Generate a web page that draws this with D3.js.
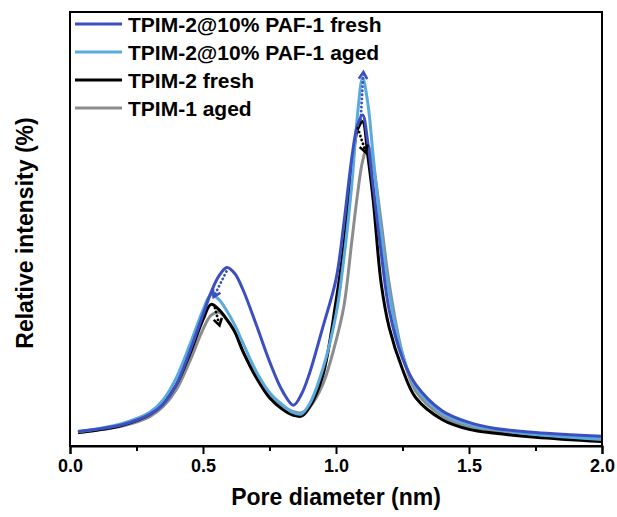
<!DOCTYPE html>
<html><head><meta charset="utf-8">
<script src="https://cdn.jsdelivr.net/npm/d3@7"></script>
<style>body{margin:0;background:#fff}svg{display:block}text{font-family:"Liberation Sans",Arial,sans-serif;font-weight:bold}</style>
</head><body><div id="chart"></div>
<script>
const poreDiameter = [0.03,0.1,0.2,0.3,0.35,0.4,0.45,0.5,0.53,0.56,0.59,0.62,0.65,0.7,0.75,0.8,0.84,0.87,0.9,0.95,1.0,1.03,1.06,1.08,1.1,1.12,1.14,1.17,1.2,1.25,1.3,1.4,1.5,1.6,1.75,2.0];
const pafFresh = [4.3,4.8,5.9,8.2,10.5,15,22.5,31,36,39.8,41.7,40.3,36.7,28.7,20.3,13.4,10.3,12.8,17.5,28,39,52,67,74,76.5,70,60,45,32,21,15,9,6.4,5,4.1,3.2];
const pafAged  = [4.3,4.9,6.2,8.7,11.5,16.6,24,32,35.5,34.4,31.8,28.5,24.5,18,13.2,10.3,8.6,8.3,10.5,18.5,31,44,61,76,85,79,67,50,36,22,14.4,8.4,5.9,4.8,3.6,2.5];
const tpim2Fresh = [4.1,4.6,5.8,8.2,10.8,15,21.9,29.8,33.3,32.1,29.8,27,22.6,16.6,12,9.3,8,7.8,9.8,17,34,47,64,73,75,67,57,38,28,18.5,12,7,4.8,3.9,3,2];
const tpim1Aged = [4.1,4.6,5.6,7.7,10,13.9,20.3,27.6,30.8,31.5,29.8,27,22.6,17.3,12.8,10,8.8,8.6,9.8,15,25,33,48,58,66,69.5,65,52,38,22,13.5,7.8,5.3,4.4,3.6,2.7];
const seriesNames = ["TPIM-2@10% PAF-1 fresh","TPIM-2@10% PAF-1 aged","TPIM-2 fresh","TPIM-1 aged"];
const seriesColors = ["#3c4fc0","#5aaade","#000000","#8c8c8c"];
const xTicks = [0.0,0.5,1.0,1.5,2.0];
const xTickLabels = ["0.0","0.5","1.0","1.5","2.0"];
const xMinorTicks = [0.25,0.75,1.25,1.75];
// shift arrows: [x1, y1, x2, y2, colorIndex]
const shiftArrows = [
  [1.093,75.5,1.103,86.3,0],
  [1.082,73.5,1.112,68.0,2],
  [0.588,40.8,0.54,35.0,0],
  [0.545,32.5,0.562,28.5,2]
];

const W=617,H=517;
const svg=d3.select("#chart").append("svg").attr("width",W).attr("height",H);
const x=d3.scaleLinear().domain([0,2]).range([70,602]);
const y=d3.scaleLinear().domain([1,100]).range([446,12]);

const allSeries=[pafFresh,pafAged,tpim2Fresh,tpim1Aged];
const line=d3.line().x((d,i)=>x(poreDiameter[i])).y(d=>y(d)).curve(d3.curveCatmullRom.alpha(0.5));
const drawOrder=[3,2,1,0];
drawOrder.forEach(k=>{
  svg.append("path").attr("d",line(allSeries[k])).attr("fill","none")
    .attr("stroke",seriesColors[k]).attr("stroke-width",3).attr("stroke-linejoin","round");
});

// arrows
shiftArrows.forEach(a=>{
  const x1=x(a[0]),y1=y(a[1]),x2=x(a[2]),y2=y(a[3]);
  const c=seriesColors[a[4]];
  svg.append("line").attr("x1",x1).attr("y1",y1).attr("x2",x2).attr("y2",y2)
    .attr("stroke",c).attr("stroke-width",2.8).attr("stroke-dasharray","0.1 4").attr("stroke-linecap","round");
  const ang=Math.atan2(y2-y1,x2-x1);
  const L=8,sp=0.55;
  const p1=[x2-L*Math.cos(ang-sp),y2-L*Math.sin(ang-sp)];
  const p2=[x2-L*Math.cos(ang+sp),y2-L*Math.sin(ang+sp)];
  svg.append("path").attr("d",`M${p1[0]},${p1[1]}L${x2},${y2}L${p2[0]},${p2[1]}`)
    .attr("fill","none").attr("stroke",c).attr("stroke-width",2.6).attr("stroke-linejoin","miter");
});

// frame
svg.append("rect").attr("x",x(0)).attr("y",12).attr("width",x(2)-x(0)).attr("height",446-12)
  .attr("fill","none").attr("stroke","#000").attr("stroke-width",2);

// x axis
const xAxis=d3.axisBottom(x).tickValues(xTicks).tickFormat((d,i)=>xTickLabels[i]).tickSize(8).tickPadding(5);
const gx=svg.append("g").attr("transform","translate(0,446)").call(xAxis);
gx.select(".domain").attr("stroke-width",2);
gx.selectAll(".tick line").attr("stroke-width",2);
gx.selectAll(".tick text").attr("font-size",18).attr("font-weight","bold").attr("fill","#000")
  .attr("font-family","'Liberation Sans',Arial,sans-serif");
const gxm=svg.append("g").attr("transform","translate(0,446)").call(d3.axisBottom(x).tickValues(xMinorTicks).tickSize(5).tickFormat(""));
gxm.select(".domain").remove();
gxm.selectAll(".tick line").attr("stroke-width",2);

svg.append("text").attr("x",(x(0)+x(2))/2).attr("y",505).attr("text-anchor","middle")
  .attr("font-size",23).text("Pore diameter (nm)");
svg.append("text").attr("transform",`translate(33,${(12+446)/2+4}) rotate(-90)`).attr("text-anchor","middle")
  .attr("font-size",23).text("Relative intensity (%)");

// legend
const legY=[24,52,80,108];
seriesNames.forEach((n,i)=>{
  svg.append("line").attr("x1",75).attr("x2",122).attr("y1",legY[i]).attr("y2",legY[i])
    .attr("stroke",seriesColors[i]).attr("stroke-width",3);
  svg.append("text").attr("x",128).attr("y",legY[i]+7.5).attr("font-size",21).attr("fill","#000").text(n);
});
</script></body></html>
